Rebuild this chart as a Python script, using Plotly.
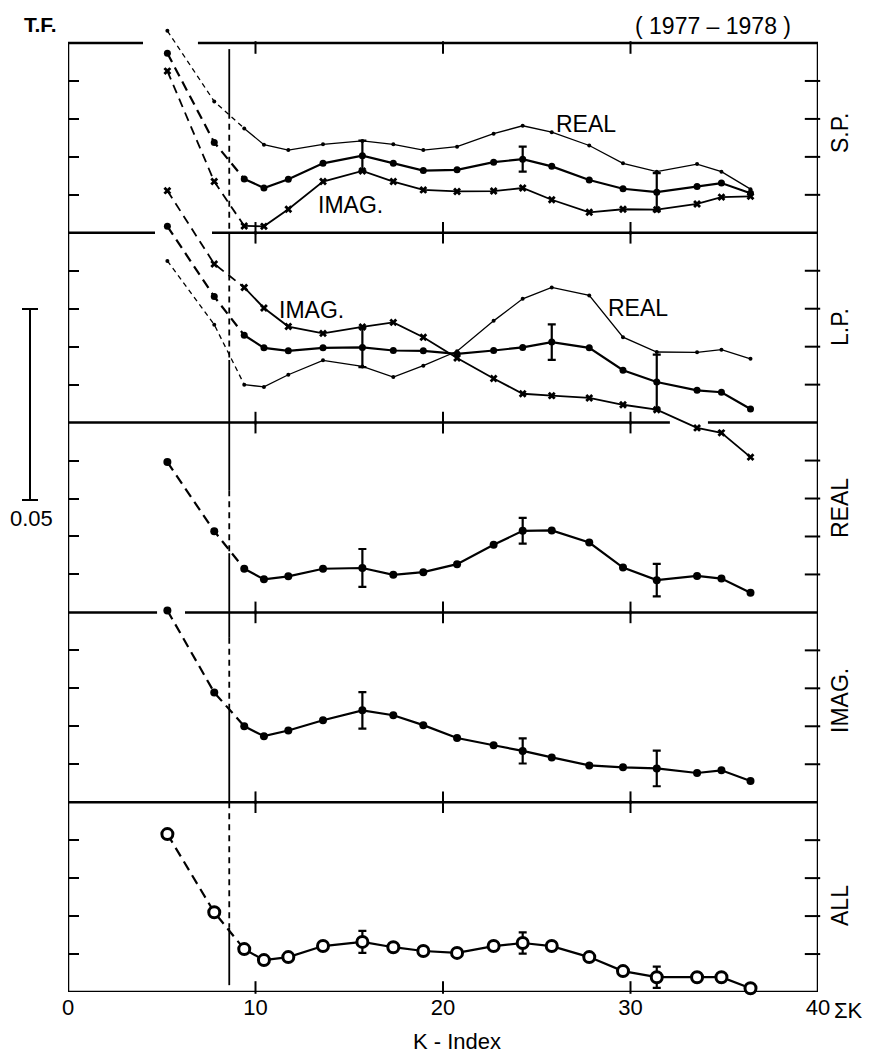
import plotly.graph_objects as go

# ---------------- data (values in units of 0.01 T.F., relative to each panel's baseline)
K_INDEX = [5.3, 7.8, 9.4, 10.45, 11.75, 13.6, 15.7, 17.35, 18.95, 20.75,
           22.7, 24.25, 25.8, 27.8, 29.6, 31.4, 33.55, 34.85, 36.4]

SP_REAL = [5.32, 3.46, 2.75, 2.32, 2.18, 2.33, 2.42, 2.33, 2.18, 2.27,
           2.61, 2.82, 2.65, 2.30, 1.83, 1.61, 1.81, 1.61, 1.15]
SP_MEAN = [4.73, 2.38, 1.42, 1.18, 1.41, 1.83, 2.03, 1.83, 1.64, 1.66,
           1.86, 1.94, 1.75, 1.39, 1.16, 1.07, 1.22, 1.31, 1.04]
SP_IMAG = [4.26, 1.35, 0.18, 0.17, 0.62, 1.35, 1.63, 1.35, 1.13, 1.09,
           1.10, 1.18, 0.87, 0.54, 0.62, 0.61, 0.76, 0.94, 0.96]

LP_IMAG = [6.11, 4.18, 3.56, 3.02, 2.53, 2.35, 2.52, 2.64, 2.25, 1.70,
           1.16, 0.76, 0.71, 0.65, 0.47, 0.34, -0.14, -0.27, -0.91]
LP_MEAN = [5.17, 3.32, 2.30, 1.97, 1.89, 1.97, 1.98, 1.90, 1.89, 1.81,
           1.90, 1.98, 2.12, 1.97, 1.38, 1.07, 0.85, 0.80, 0.36]
LP_REAL = [4.26, 2.58, 1.00, 0.94, 1.26, 1.64, 1.48, 1.20, 1.50, 1.88,
           2.68, 3.26, 3.56, 3.35, 2.25, 1.86, 1.85, 1.92, 1.68]

REAL_ALL = [3.96, 2.14, 1.15, 0.87, 0.95, 1.15, 1.17, 0.99, 1.06, 1.27,
            1.78, 2.15, 2.16, 1.84, 1.18, 0.85, 0.96, 0.89, 0.52]
IMAG_ALL = [5.05, 2.89, 2.00, 1.74, 1.89, 2.16, 2.42, 2.29, 2.03, 1.69,
            1.50, 1.35, 1.18, 0.97, 0.92, 0.89, 0.77, 0.84, 0.56]
ALL_ALL = [4.16, 2.10, 1.13, 0.84, 0.92, 1.21, 1.32, 1.18, 1.08, 1.03,
           1.21, 1.29, 1.21, 0.92, 0.55, 0.39, 0.39, 0.39, 0.10]

# error bars: (K-index, half length) per panel
ERR_SP = [(15.7, 0.40), (24.25, 0.33), (31.4, 0.50)]
ERR_LP = [(15.7, 0.52), (25.8, 0.47), (31.4, 0.72)]
ERR_REAL = [(15.7, 0.50), (24.25, 0.34), (31.4, 0.43)]
ERR_IMAG = [(15.7, 0.48), (24.25, 0.33), (31.4, 0.47)]
ERR_ALL = [(15.7, 0.29), (24.25, 0.28), (31.4, 0.28)]

PANEL_NAMES = ["S.P.", "L.P.", "REAL", "IMAG.", "ALL"]
X_TICKS = [0, 10, 20, 30, 40]
X_INNER_TICKS = [10, 20, 30]
Y_INNER_TICKS = [1, 2, 3, 4]
SCALE_LABEL = "0.05"
K_BOUNDARY = 8.6

UNIT = 0.01            # T.F. per tick
PANEL_H = 0.05         # T.F. per panel
N_PANELS = 5
TOTAL = PANEL_H * N_PANELS

# ---------------- geometry (pixels)
W, H = 875, 1054
L, R, T, B = 68, 57, 20, 62
PLOT_LEFT, PLOT_RIGHT = L, W - R          # 68 .. 818
PLOT_TOP, PLOT_BOTTOM = T, H - B          # 20 .. 992
FRAME_TOP = 43                            # top of the first panel
PLOT_H = PLOT_BOTTOM - PLOT_TOP
PANEL_PX = (PLOT_BOTTOM - FRAME_TOP) / N_PANELS
PX_PER_X = (PLOT_RIGHT - PLOT_LEFT) / 40.0
PX_PER_Y = PANEL_PX / PANEL_H


def pxx(p):
    return (p - PLOT_LEFT) / (PLOT_RIGHT - PLOT_LEFT)


def pxy(p):
    return (PLOT_BOTTOM - p) / PLOT_H


Y_MAX = TOTAL * PLOT_H / (PLOT_BOTTOM - FRAME_TOP)


def offset(p):          # p = 0 (top) .. 4 (bottom)
    return (N_PANELS - 1 - p) * PANEL_H


fig = go.Figure()
FONT = "Liberation Sans, Arial, sans-serif"

# empty traces so that the five frame subplots are created
for i in range(N_PANELS):
    n = "" if i == 0 else str(i + 1)
    fig.add_trace(go.Scatter(x=[], y=[], xaxis="x" + n, yaxis="y" + n,
                             showlegend=False, hoverinfo="skip"))

# inner tick marks drawn as line-shaped markers
XT_LEN, YT_LEN = 9, 11   # px
xt_x, xt_y, yt_x, yt_y = [], [], [], []
for b in range(N_PANELS):
    ytop = TOTAL - b * PANEL_H
    ybot = ytop - PANEL_H
    for xt in X_INNER_TICKS:
        xt_x += [xt, xt]
        xt_y += [ytop - XT_LEN / 2 / PX_PER_Y, ybot + XT_LEN / 2 / PX_PER_Y]
    for k in Y_INNER_TICKS:
        yt_x.append(40 - YT_LEN / 2 / PX_PER_X)
        yt_y.append(ybot + k * UNIT)
fig.add_trace(go.Scatter(x=xt_x, y=xt_y, mode="markers", xaxis="x6", yaxis="y6",
                         marker=dict(symbol="line-ns", size=XT_LEN, color="black",
                                     line=dict(color="black", width=2)),
                         showlegend=False, hoverinfo="skip", cliponaxis=False))
fig.add_trace(go.Scatter(x=yt_x, y=yt_y, mode="markers", xaxis="x6", yaxis="y6",
                         marker=dict(symbol="line-ew", size=YT_LEN, color="black",
                                     line=dict(color="black", width=2)),
                         showlegend=False, hoverinfo="skip", cliponaxis=False))


def add_series(p, vals, size, symbol, lw, dash, fill="black", mlw=0, errs=None):
    ys = [offset(p) + v * UNIT for v in vals]
    kw = dict(xaxis="x6", yaxis="y6", showlegend=False, hoverinfo="skip")
    fig.add_trace(go.Scatter(x=K_INDEX[:3], y=ys[:3], mode="lines",
                             line=dict(color="black", width=lw, dash=dash), **kw))
    fig.add_trace(go.Scatter(x=K_INDEX[2:], y=ys[2:], mode="lines",
                             line=dict(color="black", width=lw), **kw))
    if errs:
        ex = [e[0] for e in errs]
        ey = [ys[K_INDEX.index(e[0])] for e in errs]
        fig.add_trace(go.Scatter(x=ex, y=ey, mode="markers",
                                 marker=dict(size=1, color="black"),
                                 error_y=dict(type="data", array=[e[1] * UNIT for e in errs],
                                              color="black", thickness=2.2, width=4),
                                 cliponaxis=False, **kw))
    fig.add_trace(go.Scatter(x=K_INDEX, y=ys, mode="markers", cliponaxis=False,
                             marker=dict(size=size, symbol=symbol, color=fill,
                                         line=dict(color="black", width=mlw)), **kw))


# S.P. panel
add_series(0, SP_REAL, 4, "circle", 1.3, "5px,4px")
add_series(0, SP_IMAG, 7, "x", 1.8, "9px,6px")
add_series(0, SP_MEAN, 7, "circle", 2.2, "10px,6px", errs=ERR_SP)
# L.P. panel
add_series(1, LP_REAL, 4, "circle", 1.3, "5px,4px")
add_series(1, LP_IMAG, 7, "x", 1.8, "9px,6px")
add_series(1, LP_MEAN, 7, "circle", 2.2, "10px,6px", errs=ERR_LP)
# REAL, IMAG, ALL panels
add_series(2, REAL_ALL, 8, "circle", 2.2, "10px,6px", errs=ERR_REAL)
add_series(3, IMAG_ALL, 8, "circle", 2.2, "10px,6px", errs=ERR_IMAG)
add_series(4, ALL_ALL, 11, "circle", 2.2, "10px,6px", fill="white", mlw=3, errs=ERR_ALL)

# ---------------- frame axes (5 stacked panels) + overlay data axis
layout = dict(
    width=W, height=H,
    margin=dict(l=L, r=R, t=T, b=B),
    paper_bgcolor="white", plot_bgcolor="rgba(0,0,0,0)",
    font=dict(family=FONT, size=22, color="black"),
    showlegend=False,
)
for i in range(N_PANELS):
    n = "" if i == 0 else str(i + 1)
    bottom = i == N_PANELS - 1
    top_px = FRAME_TOP + PANEL_PX * i
    layout["xaxis" + n] = dict(
        domain=[0, 1], anchor="y" + n, range=[0, 40],
        tickvals=X_TICKS if bottom else [], ticktext=[str(t) for t in X_TICKS] if bottom else None,
        ticks="", showline=False, showgrid=False, zeroline=False,
        showticklabels=bottom, tickfont=dict(size=22, family=FONT), fixedrange=True,
    )
    layout["yaxis" + n] = dict(
        domain=[pxy(top_px + PANEL_PX), pxy(top_px)],
        anchor="x" + n, range=[0, 5], tickvals=Y_INNER_TICKS,
        ticks="inside", ticklen=11, tickwidth=2, tickcolor="black",
        showline=False, showgrid=False, zeroline=False,
        showticklabels=False, fixedrange=True,
    )
layout["xaxis6"] = dict(domain=[0, 1], anchor="y6", range=[0, 40], visible=False)
layout["yaxis6"] = dict(domain=[0, 1], anchor="x6", range=[0, Y_MAX], visible=False)
fig.update_layout(**layout)

# ---------------- panel borders (with the small gaps of the original drawing)
LW = 2.5
shapes = []


def seg(x0, x1, y0, y1, width=LW, dash="solid"):
    shapes.append(dict(type="line", xref="x6", yref="y6", x0=x0, x1=x1, y0=y0, y1=y1,
                       line=dict(color="black", width=width, dash=dash), layer="below"))


gaps = {0: [(4.0, 6.93)], 1: [(4.64, 7.68)], 2: [(32.1, 34.13)], 3: [(4.75, 6.24)]}
for b in range(N_PANELS + 1):
    y = TOTAL - b * PANEL_H
    segs = [0.0]
    for g0, g1 in gaps.get(b, []):
        segs += [g0, g1]
    segs.append(40.0)
    for s in range(0, len(segs), 2):
        seg(segs[s], segs[s + 1], y, y)
for xv in (0, 40):
    seg(xv, xv, 0, TOTAL)

# vertical boundary line at K ~ 8.6 (solid / dashed pieces, in tick units)
vsegs = [(24.84, 23.16, "solid"), (23.16, 20.0, "6px,5px"), (20.0, 18.9, "solid"),
         (18.9, 16.65, "6px,5px"), (16.65, 13.22, "solid"), (13.22, 11.56, "6px,5px"),
         (11.56, 9.33, "solid"), (9.33, 7.56, "6px,5px"), (7.56, 5.0, "solid"),
         (5.0, 1.69, "6px,5px"), (1.69, 0.18, "solid")]
for y0, y1, d in vsegs:
    seg(K_BOUNDARY, K_BOUNDARY, y0 * UNIT, y1 * UNIT, width=1.8, dash=d)

# scale bar (0.05)
sb_x, sb_top, sb_bot = pxx(30), pxy(309), pxy(500)
cap = 8 / (PLOT_RIGHT - PLOT_LEFT)
shapes.append(dict(type="line", xref="paper", yref="paper", x0=sb_x, x1=sb_x,
                   y0=sb_bot, y1=sb_top, line=dict(color="black", width=2)))
for yy in (sb_top, sb_bot):
    shapes.append(dict(type="line", xref="paper", yref="paper", x0=sb_x - cap, x1=sb_x + cap,
                       y0=yy, y1=yy, line=dict(color="black", width=2)))
fig.update_layout(shapes=shapes)

# ---------------- texts (positions in pixels)
ann = []


def text(t, x, y, size=22, angle=0, xanchor="center"):
    ann.append(dict(text=t, x=pxx(x), y=pxy(y), xref="paper", yref="paper", showarrow=False,
                    xanchor=xanchor, yanchor="middle", textangle=angle,
                    font=dict(size=size, family=FONT, color="black")))


text("<b>T.F.</b>", 40, 25, size=21)
text("( 1977 – 1978 )", 713, 26, size=23)
for name, yy in zip(PANEL_NAMES, [133, 327, 508, 701, 906]):
    text(name, 840, yy, size=23, angle=-90)
text("REAL", 586, 124, size=23)
text("IMAG.", 350, 205, size=23)
text("IMAG.", 311, 310, size=23)
text("REAL", 638, 308, size=23)
text(SCALE_LABEL, 31, 518, size=22)
text("ΣK", 832, 1010, xanchor="left")
text("K - Index", 457, 1041)
fig.update_layout(annotations=ann)

fig.write_html("out.html")
